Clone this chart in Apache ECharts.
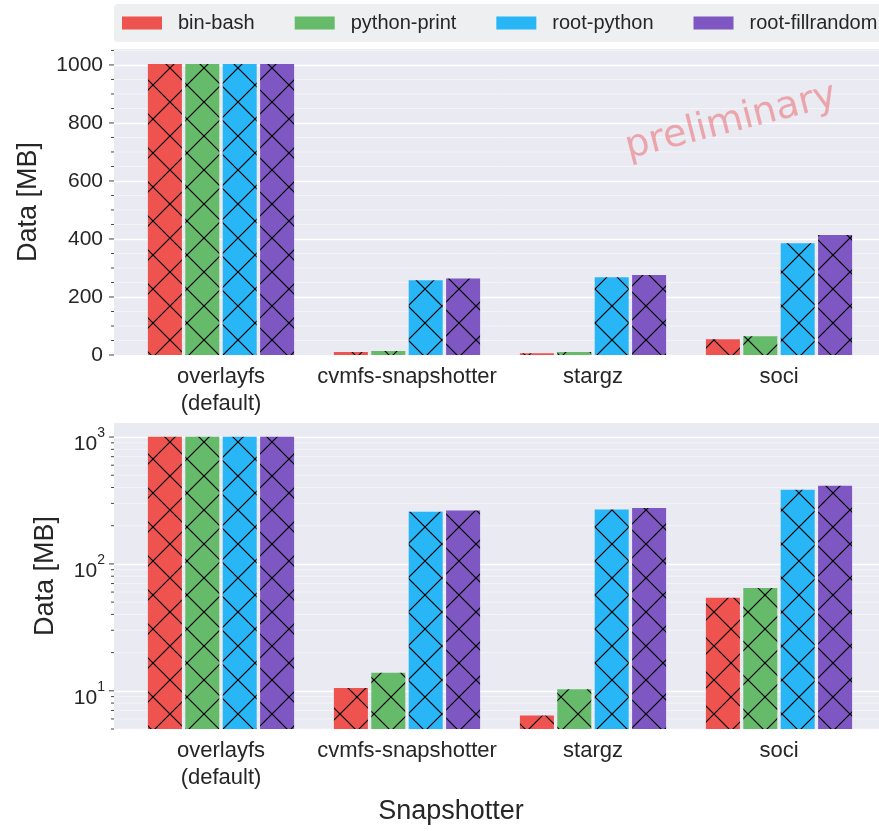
<!DOCTYPE html>
<html>
<head>
<meta charset="utf-8">
<script src="https://cdn.jsdelivr.net/npm/echarts@6/dist/echarts.min.js"></script>
<style>
  html, body { margin: 0; padding: 0; background: #fff; }
  #chart { width: 879px; height: 831px; }
</style>
</head>
<body>
<div id="chart"></div>
<script>
// snapshotter data sizes in MB
var categories = ['overlayfs\n(default)', 'cvmfs-snapshotter', 'stargz', 'soci'];
var seriesNames = ['bin-bash', 'python-print', 'root-python', 'root-fillrandom'];
var binBash = [1003, 10.5, 6.4, 54];
var pythonPrint = [1003, 13.9, 10.3, 64.5];
var rootPython = [1003, 258, 268, 385];
var rootFillrandom = [1003, 264, 276, 414];
var colors = ['#EF5350', '#66BB6A', '#29B6F6', '#7E57C2'];

// tick positions for the two y axes
var linMajorTicks = [0, 200, 400, 600, 800, 1000];
var linMinorTicks = [50, 100, 150, 250, 300, 350, 450, 500, 550, 650, 700, 750, 850, 900, 950, 1050];
var logMajorTicks = [10, 100, 1000];
var logMinorTicks = [5, 6, 7, 8, 9, 20, 30, 40, 50, 60, 70, 80, 90, 200, 300, 400, 500, 600, 700, 800, 900];

var textColor = '#262626';
var fontName = '"Liberation Sans", Arial, sans-serif';

// crosshatch fill like matplotlib 'x'
var hatch = function (color) {
    var s = 34;
    var c = document.createElement('canvas');
    c.width = s;
    c.height = s;
    var ctx = c.getContext('2d');
    ctx.fillStyle = color;
    ctx.fillRect(0, 0, s, s);
    ctx.strokeStyle = '#000';
    ctx.lineWidth = 1.2;
    ctx.beginPath();
    for (var k = -1; k <= 1; k++) {
        ctx.moveTo(k * s, 0);
        ctx.lineTo(k * s + s, s);
        ctx.moveTo(k * s + s, 0);
        ctx.lineTo(k * s, s);
    }
    ctx.stroke();
    return { image: c, repeat: 'repeat' };
};

var tickData = function (major, minor) {
    var out = [];
    major.forEach(function (v) { out.push([0, v, 1]); });
    minor.forEach(function (v) { out.push([0, v, 0]); });
    return out;
};

// minor grid lines + little ticks left of the axis
var renderTicks = function (params, api) {
    var cs = params.coordSys;
    var y = api.coord([0, api.value(1)])[1];
    var major = api.value(2) === 1;
    var children = [];
    if (!major) {
        children.push({
            type: 'line',
            shape: { x1: cs.x, y1: y, x2: cs.x + cs.width, y2: y },
            style: { stroke: 'rgba(255,255,255,0.6)', lineWidth: 0.8 }
        });
    }
    children.push({
        type: 'line',
        shape: { x1: cs.x - (major ? 5 : 3), y1: y, x2: cs.x, y2: y },
        style: { stroke: '#444', lineWidth: 1 }
    });
    return { type: 'group', children: children };
};

var logLabel = function (v) {
    var e = Math.log10(v);
    if (Math.abs(e - Math.round(e)) > 1e-6) return '';
    return '{b|10}{s|' + Math.round(e) + '}';
};

var xCat = function (gi) {
    return {
        gridIndex: gi,
        type: 'category',
        data: categories,
        axisLine: { show: false },
        axisTick: { show: false },
        axisLabel: { interval: 0, fontSize: 22, lineHeight: 27, margin: 8, color: textColor, fontFamily: fontName }
    };
};

var valueSets = [binBash, pythonPrint, rootPython, rootFillrandom];
var series = [];
[1, 3].forEach(function (gi) {
    valueSets.forEach(function (vals, i) {
        series.push({
            name: seriesNames[i],
            type: 'bar',
            xAxisIndex: gi,
            yAxisIndex: gi,
            barWidth: 34,
            barGap: '10%',
            itemStyle: { color: hatch(colors[i]) },
            data: vals
        });
    });
});
series.push({
    type: 'custom', xAxisIndex: 0, yAxisIndex: 0, silent: true, z: 1,
    renderItem: renderTicks, data: tickData(linMajorTicks, linMinorTicks)
});
series.push({
    type: 'custom', xAxisIndex: 2, yAxisIndex: 2, silent: true, z: 1,
    renderItem: renderTicks, data: tickData(logMajorTicks, logMinorTicks)
});

var myChart = echarts.init(document.getElementById('chart'));

var option = {
    animation: false,
    backgroundColor: '#fff',
    textStyle: { fontFamily: fontName },
    legend: {
        left: 114,
        top: 4,
        width: 800,
        padding: [9, 8, 9, 8],
        backgroundColor: '#EDEFF1',
        borderRadius: 4,
        icon: 'rect',
        itemWidth: 40,
        itemHeight: 13,
        itemGap: 40,
        selectedMode: false,
        textStyle: { fontSize: 20, color: textColor, fontFamily: fontName, padding: [0, 0, 0, 11] },
        data: seriesNames.map(function (n, i) {
            return { name: n, itemStyle: { color: colors[i] } };
        })
    },
    grid: [
        { left: 114, right: 0, top: 49, height: 306, show: true, backgroundColor: '#EAEAF2', borderWidth: 0 },
        { left: 128, width: 744, top: 49, height: 306 },
        { left: 114, right: 0, top: 423, height: 306, show: true, backgroundColor: '#EAEAF2', borderWidth: 0 },
        { left: 128, width: 744, top: 423, height: 306 }
    ],
    xAxis: [
        { gridIndex: 0, type: 'category', data: [''], show: false },
        xCat(1),
        { gridIndex: 2, type: 'category', data: [''], show: false },
        xCat(3)
    ],
    yAxis: [
        {
            gridIndex: 0, type: 'value', min: 0, max: 1055, interval: 200,
            axisLine: { show: false }, axisTick: { show: false },
            axisLabel: {
                fontSize: 21, color: textColor, margin: 11,
                formatter: function (v) { return (v % 200 === 0 && v <= 1000) ? String(v) : ''; }
            },
            splitLine: { show: true, showMinLine: false, showMaxLine: false, lineStyle: { color: '#fff', width: 1.3 } },
            name: 'Data [MB]', nameLocation: 'middle', nameGap: 72,
            nameTextStyle: { fontSize: 27, color: textColor, fontFamily: fontName }
        },
        { gridIndex: 1, type: 'value', min: 0, max: 1055, show: false },
        {
            gridIndex: 2, type: 'log', logBase: 10, min: 5, max: 1290,
            axisLine: { show: false }, axisTick: { show: false },
            axisLabel: {
                margin: 9, color: textColor, formatter: logLabel, padding: [7, 0, 0, 0],
                rich: {
                    b: { fontSize: 21, color: textColor, lineHeight: 29, padding: [5, 0, 0, 0], verticalAlign: 'bottom', fontFamily: fontName },
                    s: { fontSize: 14, color: textColor, lineHeight: 14, verticalAlign: 'top', fontFamily: fontName }
                }
            },
            splitLine: { show: true, showMinLine: false, showMaxLine: false, lineStyle: { color: '#fff', width: 1.3 } },
            name: 'Data [MB]', nameLocation: 'middle', nameGap: 55,
            nameTextStyle: { fontSize: 27, color: textColor, fontFamily: fontName }
        },
        { gridIndex: 3, type: 'log', logBase: 10, min: 5, max: 1290, show: false }
    ],
    graphic: [
        {
            type: 'text', x: 451, y: 812, z: 100,
            style: { text: 'Snapshotter', fontSize: 27, fill: textColor, fontFamily: fontName, align: 'center', verticalAlign: 'middle' }
        },
        {
            type: 'text', x: 731, y: 122, rotation: 0.25, z: 100,
            style: { text: 'preliminary', fontSize: 38, fill: 'rgba(235,80,85,0.45)', fontFamily: '"DejaVu Sans"', align: 'center', verticalAlign: 'middle' }
        }
    ],
    series: series
};

myChart.setOption(option);
</script>
</body>
</html>
